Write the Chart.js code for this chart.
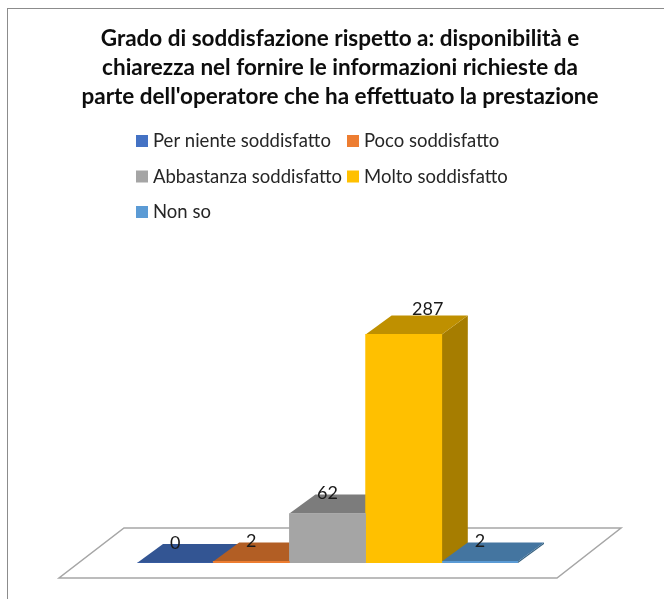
<!DOCTYPE html>
<html>
<head>
<meta charset="utf-8">
<title>Grado di soddisfazione</title>
<script src="https://cdn.jsdelivr.net/npm/chart.js@4/dist/chart.umd.js"></script>
<style>
  html, body { margin: 0; padding: 0; background: #fff; }
  #wrap { position: relative; width: 664px; height: 599px; overflow: hidden; }
  #frame { position: absolute; left: 7px; top: 8px; width: 664px; height: 600px; border: 1px solid #8c8c8c; box-sizing: border-box; }
</style>
</head>
<body>
<div id="wrap">
  <div id="frame"></div>
  <canvas id="chart" width="664" height="599"></canvas>
</div>
<script>
// chart data
const titleLines = [
  'Grado di soddisfazione rispetto a: disponibilità e',
  'chiarezza nel fornire le informazioni richieste da',
  "parte dell'operatore che ha effettuato la prestazione"
];
const seriesNames = ['Per niente soddisfatto', 'Poco soddisfatto', 'Abbastanza soddisfatto', 'Molto soddisfatto', 'Non so'];
const seriesValues = [0, 2, 62, 287, 2];

// face colours
const frontColors = ['#4472C4', '#ED7D31', '#A5A5A5', '#FFC000', '#5B9BD5'];
const topColors = ['#335593', '#B25E24', '#7C7C7C', '#BF9000', '#4475A0'];
const sideColors = ['#294677', '#8F4B1D', '#636363', '#A67D00', '#37617F'];

const FONT = 'Lato, "Open Sans", sans-serif';
const DEPTH_X = 26, DEPTH_Y = 19;

function poly(ctx, pts, fill) {
  ctx.beginPath();
  pts.forEach((p, i) => i ? ctx.lineTo(p[0], p[1]) : ctx.moveTo(p[0], p[1]));
  ctx.closePath();
  ctx.fillStyle = fill;
  ctx.fill();
}

// floor plus the top and side faces of each bar, under the front faces
const depthPlugin = {
  id: 'depth',
  beforeDatasetsDraw(chart) {
    const ctx = chart.ctx;
    ctx.save();
    const zero = chart.scales.y.getPixelForValue(0);
    const a = chart.chartArea;
    ctx.beginPath();
    ctx.moveTo(59, zero + 15);
    ctx.lineTo(a.right + 39, zero + 15);
    ctx.lineTo(a.right + 103, zero - 35);
    ctx.lineTo(a.left - 13, zero - 35);
    ctx.closePath();
    ctx.strokeStyle = '#a6a6a6';
    ctx.lineWidth = 1.5;
    ctx.stroke();
    chart.data.datasets.forEach((ds, i) => {
      const bar = chart.getDatasetMeta(i).data[0];
      const l = bar.x - bar.width / 2, r = bar.x + bar.width / 2;
      const top = bar.y, base = bar.base;
      poly(ctx, [[r, base], [r + DEPTH_X, base - DEPTH_Y], [r + DEPTH_X, top - DEPTH_Y], [r, top]], sideColors[i]);
      poly(ctx, [[l, top], [r, top], [r + DEPTH_X, top - DEPTH_Y], [l + DEPTH_X, top - DEPTH_Y]], topColors[i]);
    });
    ctx.restore();
  }
};

// value labels on top of everything
const labelNudgeX = [0, 0, 0, 24, 0];
const labelNudgeY = [0, 0, 0, -5, 0];
const valueLabelPlugin = {
  id: 'valueLabels',
  afterDatasetsDraw(chart) {
    const ctx = chart.ctx;
    ctx.save();
    ctx.font = '18px ' + FONT;
    ctx.fillStyle = '#1a1a1a';
    ctx.textAlign = 'center';
    ctx.textBaseline = 'middle';
    chart.data.datasets.forEach((ds, i) => {
      const bar = chart.getDatasetMeta(i).data[0];
      ctx.fillText(String(ds.data[0]), bar.x + labelNudgeX[i], bar.y - 20 + labelNudgeY[i]);
    });
    ctx.restore();
  }
};

// legend in two fixed columns, as the built-in one only wraps by text width
const legendPlugin = {
  id: 'columnLegend',
  afterDraw(chart) {
    const ctx = chart.ctx;
    ctx.save();
    ctx.font = '18.5px ' + FONT;
    ctx.textBaseline = 'middle';
    chart.data.datasets.forEach((ds, i) => {
      const x = i % 2 ? 347 : 136;
      const y = 141.5 + Math.floor(i / 2) * 35.5;
      ctx.fillStyle = ds.backgroundColor;
      ctx.fillRect(x, y - 6.5, 12, 12);
      ctx.fillStyle = '#262626';
      ctx.fillText(ds.label, x + 17, y);
    });
    ctx.restore();
  }
};

// invisible axes that only hold the plot area in place, so the title keeps the full width
const spacerAxis = (position, width) => ({
  position,
  min: 0,
  max: 300,
  ticks: { display: false },
  grid: { display: false },
  border: { display: false },
  afterFit(scale) { scale.width = width; }
});

new Chart(document.getElementById('chart'), {
  type: 'bar',
  data: {
    labels: [''],
    datasets: seriesNames.map((name, i) => ({
      label: name,
      data: [seriesValues[i]],
      backgroundColor: frontColors[i],
      barPercentage: 1,
      categoryPercentage: 1
    }))
  },
  options: {
    responsive: false,
    animation: false,
    // left padding moves the title's centre to the right of the canvas centre
    layout: { padding: { left: 16, top: 24, bottom: 36 } },
    scales: {
      x: { display: false },
      y: spacerAxis('left', 121),
      yRight: spacerAxis('right', 146)
    },
    plugins: {
      legend: { display: false },
      tooltip: { enabled: false },
      title: {
        display: true,
        text: titleLines,
        color: '#0d0d0d',
        font: { family: FONT, size: 22.5, weight: 'bold', lineHeight: 1.29 },
        padding: { top: 0, bottom: 213 }
      }
    }
  },
  plugins: [depthPlugin, valueLabelPlugin, legendPlugin]
});
</script>
</body>
</html>
